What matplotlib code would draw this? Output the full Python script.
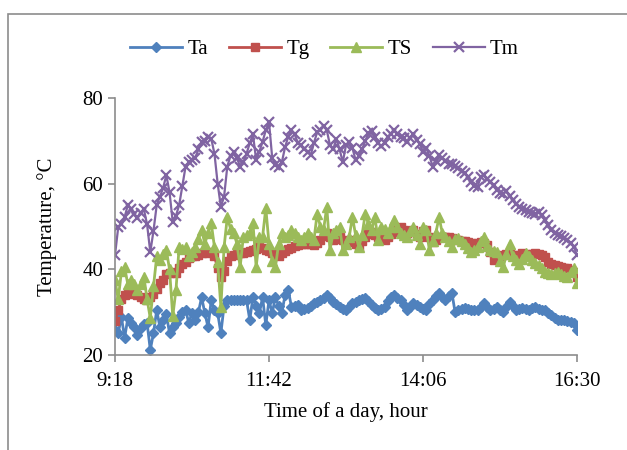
import numpy as np
import matplotlib
matplotlib.use("Agg")
import matplotlib.pyplot as plt
from matplotlib.patches import Rectangle

plt.rcParams['font.family'] = ['Liberation Serif', 'DejaVu Serif']

# readings every 3 minutes from 9:18 to 16:30 (minutes after midnight)
minutes = np.arange(558, 991, 3)
tick_minutes = [558, 702, 846, 990]
tick_labels = ['9:18', '11:42', '14:06', '16:30']

Ta = [25.8, 25.1, 28.9, 24.0, 28.6, 27.5, 26.5, 24.7, 26.3, 27.2,
      27.5, 21.2, 25.1, 30.5, 26.5, 28.2, 29.5, 25.1, 26.5, 27.5,
      28.9, 30.0, 30.5, 27.5, 29.8, 28.2, 30.0, 33.5, 29.8, 26.5,
      32.8, 30.5, 29.8, 25.1, 31.5, 32.8, 32.8, 32.8, 32.8, 32.8,
      32.8, 32.8, 28.2, 33.5, 31.5, 29.8, 33.5, 27.0, 32.8, 29.8,
      33.5, 31.5, 29.8, 34.0, 35.2, 31.2, 31.5, 31.7, 30.5, 30.8,
      31.0, 31.5, 32.1, 32.4, 32.8, 33.3, 34.0, 33.2, 32.4, 31.8,
      31.2, 30.8, 30.5, 31.3, 32.1, 32.4, 32.8, 33.0, 33.3, 32.5,
      31.7, 31.0, 30.5, 30.8, 31.2, 32.5, 33.5, 34.0, 33.3, 32.8,
      31.7, 30.5, 31.3, 32.1, 31.7, 31.2, 30.8, 30.5, 31.8, 32.8,
      33.7, 34.5, 33.6, 32.8, 33.7, 34.5, 30.0, 30.5, 30.7, 31.0,
      30.7, 30.5, 30.5, 30.5, 31.3, 32.1, 31.3, 30.5, 30.8, 31.2,
      30.5, 30.0, 31.2, 32.4, 31.4, 30.5, 30.8, 31.0, 30.7, 30.5,
      30.9, 31.2, 30.8, 30.5, 30.5, 29.9, 29.3, 28.7, 28.2, 28.2,
      28.2, 27.9, 27.7, 27.5, 25.8]

Tg = [28.0, 30.5, 33.0, 34.0, 34.7, 34.6, 34.3, 34.0, 33.5, 33.0,
      32.8, 33.5, 34.3, 35.5, 36.8, 37.5, 38.8, 39.2, 39.4, 39.1,
      40.2, 41.2, 41.8, 42.6, 43.0, 43.2, 43.3, 43.8, 44.0, 43.8,
      44.0, 43.0, 40.3, 38.3, 39.5, 42.0, 43.0, 43.3, 43.5, 43.8,
      43.9, 44.0, 44.2, 44.5, 44.8, 45.2, 45.0, 44.5, 44.2, 43.8,
      43.3, 43.0, 43.8, 44.3, 44.7, 45.0, 45.4, 45.7, 45.8, 45.9,
      46.0, 45.8, 45.7, 46.2, 46.8, 47.7, 48.5, 47.5, 46.8, 47.2,
      47.6, 46.8, 46.0, 46.4, 46.8, 45.8, 45.2, 46.5, 47.6, 48.2,
      48.7, 48.0, 47.6, 47.2, 46.8, 47.5, 48.3, 48.8, 49.5, 50.0,
      49.2, 48.5, 48.9, 49.2, 48.2, 47.6, 49.0, 49.2, 47.5, 46.3,
      46.8, 47.6, 47.6, 47.6, 47.5, 47.3, 47.1, 46.9, 46.7, 46.5,
      46.3, 46.1, 46.0, 46.2, 46.4, 46.1, 45.7, 44.0, 42.2, 42.8,
      43.1, 43.3, 43.5, 43.8, 43.4, 43.0, 43.4, 43.8, 43.5, 43.3,
      43.6, 43.8, 43.6, 43.3, 42.8, 41.7, 41.2, 41.0, 40.8, 40.5,
      40.4, 40.3, 39.8, 39.4, 38.3]

TS = [37.5, 33.0, 39.5, 40.5, 36.5, 37.5, 36.5, 35.2, 36.5, 38.3,
      33.0, 28.6, 36.0, 43.0, 42.2, 43.5, 44.5, 40.0, 29.0, 35.2,
      45.2, 44.8, 45.2, 43.0, 44.0, 45.2, 47.0, 49.2, 46.0, 48.5,
      50.8, 45.2, 41.7, 31.2, 45.2, 52.2, 49.5, 48.5, 46.0, 40.5,
      47.6, 48.0, 48.5, 50.8, 40.5, 47.6, 47.6, 54.3, 46.0, 42.0,
      40.5, 46.0, 48.5, 47.6, 48.0, 49.2, 48.5, 47.5, 46.8, 47.5,
      48.5, 47.6, 46.8, 53.0, 50.0, 49.2, 54.6, 44.5, 48.5, 49.3,
      50.0, 44.5, 46.0, 47.6, 52.2, 48.0, 45.2, 48.0, 53.0, 50.5,
      49.2, 52.2, 46.8, 50.0, 49.5, 48.5, 49.8, 51.5, 50.0, 48.5,
      48.0, 47.6, 49.0, 50.0, 48.0, 46.0, 50.0, 49.2, 44.5, 46.5,
      48.5, 52.2, 48.5, 47.6, 46.5, 45.2, 47.0, 47.3, 46.6, 46.0,
      45.0, 44.0, 44.5, 45.2, 46.5, 47.6, 45.5, 44.5, 44.2, 44.0,
      42.0, 40.5, 43.5, 46.0, 43.0, 42.2, 41.3, 42.5, 43.8, 43.0,
      42.2, 41.5, 41.0, 40.2, 39.4, 39.2, 39.0, 39.2, 39.4, 39.0,
      38.5, 38.3, 39.3, 40.3, 36.8]

Tm = [43.3, 49.8, 50.5, 52.2, 55.0, 54.0, 53.0, 52.0, 53.2, 54.0,
      50.5, 44.0, 49.0, 55.0, 57.0, 59.0, 62.0, 58.0, 51.0, 52.5,
      55.0, 59.5, 64.0, 65.0, 65.5, 66.0, 68.0, 69.7, 70.0, 71.0,
      70.5, 67.0, 60.0, 54.6, 57.0, 64.0, 66.5, 67.4, 66.0, 64.0,
      65.0, 67.0, 69.5, 71.5, 65.5, 67.5, 69.8, 72.5, 74.4, 66.0,
      64.4, 64.0, 65.0, 68.5, 71.0, 72.5, 71.5, 69.5, 69.0, 68.2,
      67.5, 66.7, 69.5, 72.0, 72.5, 73.5, 72.5, 69.0, 68.0, 70.5,
      68.0, 65.0, 69.0, 69.8, 68.3, 65.5, 66.5, 68.0, 70.0, 71.8,
      72.4, 71.0, 69.5, 68.7, 69.5, 70.8, 71.6, 72.6, 71.5, 70.8,
      70.6, 69.8, 70.6, 71.6, 70.3, 69.2, 67.5, 68.3, 66.5, 64.0,
      65.3, 66.6, 66.1, 65.4, 64.7, 64.5, 64.2, 63.7, 63.0, 62.4,
      61.6, 60.5, 59.5, 59.3, 61.5, 62.0, 61.0, 60.5, 59.7, 58.6,
      57.9, 57.6, 58.3, 57.2, 56.2, 55.3, 54.5, 54.0, 53.8, 53.5,
      53.2, 53.0, 53.3, 52.6, 51.5, 50.4, 49.2, 48.4, 48.0, 47.7,
      47.3, 46.8, 46.1, 45.3, 43.3]

fig = plt.figure(figsize=(6.27, 4.5), dpi=100)
ax = fig.add_axes([0.1834, 0.2111, 0.7369, 0.5711])

ax.plot(minutes, Ta, color='#4F81BD', lw=2, marker='D', ms=5.5, label='Ta')
ax.plot(minutes, Tg, color='#C0504D', lw=2, marker='s', ms=6, label='Tg')
ax.plot(minutes, TS, color='#9BBB59', lw=2, marker='^', ms=7.5, label='TS')
ax.plot(minutes, Tm, color='#8064A2', lw=1.6, marker='x', ms=6.5, mew=1.6, label='Tm')

ax.set_xlim(558, 990)
ax.set_ylim(20, 80)
ax.set_xticks(tick_minutes)
ax.set_xticklabels(tick_labels)
ax.set_yticks([20, 40, 60, 80])

for s in ['top', 'right']:
    ax.spines[s].set_visible(False)
for s in ['left', 'bottom']:
    ax.spines[s].set_color('#8c8c8c')
    ax.spines[s].set_linewidth(1.2)
ax.tick_params(colors='#8c8c8c', labelcolor='black', labelsize=15, length=5, width=1.2)
ax.tick_params(axis='x', pad=7)

ax.set_xlabel('Time of a day, hour', fontsize=15, labelpad=8)
ax.set_ylabel('Temperature, \u00b0C', fontsize=15, labelpad=18)

fig.legend(loc='center', bbox_to_anchor=(0.5175, 0.891), ncol=4, frameon=False,
           fontsize=15, handlelength=2.5, handletextpad=0.25, columnspacing=1.0)

fig.patches.append(Rectangle((0.0128, -0.1), 1.2, 1.069, transform=fig.transFigure,
                             fill=False, edgecolor='#8c8c8c', lw=1.2, clip_on=False))

fig.savefig('out.png', dpi=100)
